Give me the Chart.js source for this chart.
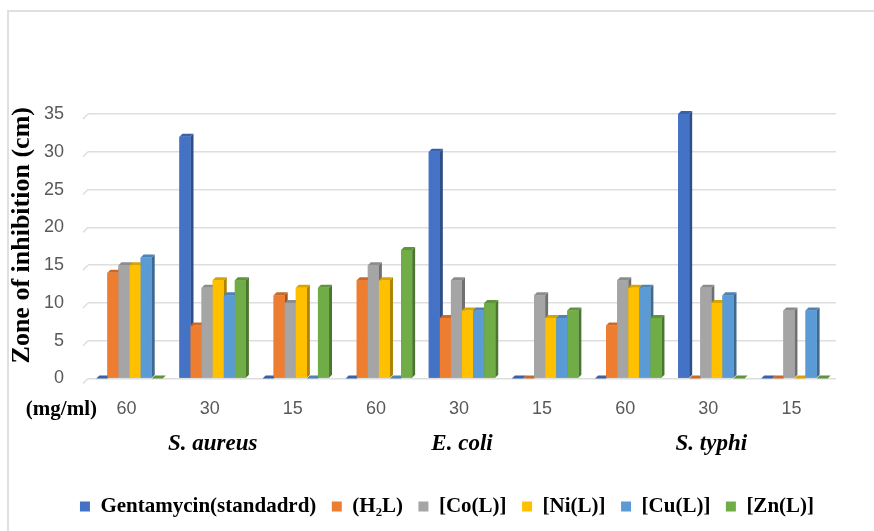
<!DOCTYPE html>
<html>
<head>
<meta charset="utf-8">
<script src="https://cdn.jsdelivr.net/npm/chart.js@4/dist/chart.umd.min.js"></script>
<style>
  html, body { margin: 0; padding: 0; background: #ffffff; }
  #wrap { position: relative; width: 874px; height: 531px; overflow: hidden; }
  #frame { position: absolute; left: 7px; top: 10px; width: 900px; height: 600px;
           border-left: 2px solid #e0e0e0; border-top: 2px solid #e0e0e0; pointer-events: none; }
  canvas { position: absolute; left: 0; top: 0; }
</style>
</head>
<body>
<div id="wrap">
  <div id="frame"></div>
  <canvas id="c" width="874" height="531"></canvas>
</div>
<script>
// Concentrations tested for each organism
const concentrations = ['60', '30', '15', '60', '30', '15', '60', '30', '15'];
const organisms = ['S. aureus', 'E. coli', 'S. typhi'];
const yTicks = [0, 5, 10, 15, 20, 25, 30, 35];

// Zone of inhibition (cm) for each compound
const gentamycin = [0, 32, 0, 0, 30, 0, 0, 35, 0];
const h2l        = [14, 7, 11, 13, 8, 0, 7, 0, 0];
const coL        = [15, 12, 10, 15, 13, 11, 13, 12, 9];
const niL        = [15, 13, 12, 13, 9, 8, 12, 10, 0];
const cuL        = [16, 11, 0, 0, 9, 8, 12, 11, 9];
const znL        = [0, 13, 12, 17, 10, 9, 8, 0, 0];

const seriesNames = ['Gentamycin(standadrd)', '(H\u2082L)', '[Co(L)]', '[Ni(L)]', '[Cu(L)]', '[Zn(L)]'];
const seriesColors = ['#4472C4', '#ED7D31', '#A5A5A5', '#FFC000', '#5B9BD5', '#70AD47'];
const seriesValues = [gentamycin, h2l, coL, niL, cuL, znL];
const yTitle = 'Zone of inhibition (cm)';

const GRID = '#dedede';
const DEPTH = 3;

function shade(hex, f) {
  const n = parseInt(hex.slice(1), 16);
  const r = Math.round(((n >> 16) & 255) * f);
  const g = Math.round(((n >> 8) & 255) * f);
  const b = Math.round((n & 255) * f);
  return 'rgb(' + r + ',' + g + ',' + b + ')';
}

// Gives the flat bars a shallow 3-D look: front face, darker side and top.
const bars3d = {
  id: 'bars3d',
  afterLayout(chart) {
    // legend sits a little right of centre
    chart.legend.left += 27;
    chart.legend.right += 27;
  },
  beforeDatasetsDraw(chart) {
    const ctx = chart.ctx;
    const y = chart.scales.y;
    const left = chart.chartArea.left;
    ctx.save();
    ctx.strokeStyle = GRID;
    ctx.lineWidth = 1.5;
    y.ticks.forEach(t => {
      const py = y.getPixelForValue(t.value);
      ctx.beginPath();
      ctx.moveTo(left - 5, py + 5);
      ctx.lineTo(left, py);
      ctx.stroke();
    });
    ctx.restore();
  },
  afterDatasetsDraw(chart) {
    const ctx = chart.ctx;
    const metas = chart.data.datasets.map((_, i) => chart.getDatasetMeta(i));
    const n = chart.data.labels.length;
    ctx.save();
    for (let k = 0; k < n; k++) {
      metas.forEach((meta, di) => {
        const el = meta.data[k];
        if (!el) return;
        const p = el.getProps(['x', 'y', 'base', 'width'], true);
        const l = p.x - p.width / 2, r = p.x + p.width / 2;
        const top = Math.min(p.y, p.base), base = Math.max(p.y, p.base);
        const col = seriesColors[di];
        // side face
        ctx.fillStyle = shade(col, 0.68);
        ctx.beginPath();
        ctx.moveTo(r, top); ctx.lineTo(r + DEPTH, top - DEPTH);
        ctx.lineTo(r + DEPTH, base - DEPTH); ctx.lineTo(r, base);
        ctx.closePath(); ctx.fill();
        // top face
        ctx.fillStyle = shade(col, 0.85);
        ctx.beginPath();
        ctx.moveTo(l, top); ctx.lineTo(l + DEPTH, top - DEPTH);
        ctx.lineTo(r + DEPTH, top - DEPTH); ctx.lineTo(r, top);
        ctx.closePath(); ctx.fill();
        // front face
        ctx.fillStyle = col;
        ctx.fillRect(l, top, r - l, base - top);
      });
    }
    ctx.restore();
  },
  afterDraw(chart) {
    const ctx = chart.ctx;
    const x = chart.scales.x;
    const area = chart.chartArea;
    const rowY = area.bottom + 31;
    ctx.save();
    ctx.textBaseline = 'middle';
    // concentration row, nudged toward the chart floor's front edge
    ctx.font = '18px "Liberation Sans"';
    ctx.fillStyle = '#595959';
    ctx.textAlign = 'center';
    concentrations.forEach((c, i) => {
      ctx.fillText(c, x.getPixelForValue(i) - 3, rowY);
    });
    // unit caption in front of the concentration row
    ctx.font = 'bold 21px "Liberation Serif"';
    ctx.fillStyle = '#000000';
    ctx.textAlign = 'right';
    ctx.fillText('(mg/ml)', x.left + 9, rowY);
    // value-axis title
    ctx.font = 'bold 26px "Liberation Serif"';
    ctx.textAlign = 'center';
    ctx.translate(22, (area.top + area.bottom) / 2 - 11);
    ctx.rotate(-Math.PI / 2);
    ctx.fillText(yTitle, 0, 0);
    ctx.restore();
  }
};

const datasets = seriesNames.map((name, i) => ({
  label: name,
  data: seriesValues[i],
  backgroundColor: seriesColors[i],
  borderWidth: 0,
  categoryPercentage: 0.8,
  barPercentage: 1.0
}));

new Chart(document.getElementById('c'), {
  type: 'bar',
  data: { labels: concentrations, datasets },
  plugins: [bars3d],
  options: {
    responsive: false,
    animation: false,
    devicePixelRatio: 1,
    layout: { padding: { top: 114, right: 38, left: 4, bottom: 4 } },
    plugins: {
      tooltip: { enabled: false },
      legend: {
        position: 'bottom',
        labels: {
          boxWidth: 10,
          boxHeight: 10,
          padding: 15.5,
          color: '#000000',
          font: { family: '"Liberation Serif"', size: 21, weight: 'bold' }
        }
      }
    },
    scales: {
      x: {
        grid: { display: false, drawTicks: false },
        border: { display: false },
        ticks: { display: false },
        afterFit(scale) { scale.height = 42; }
      },
      species: {
        type: 'category',
        labels: organisms,
        position: 'bottom',
        offset: true,
        weight: 10,
        grid: { display: false, drawTicks: false },
        border: { display: false },
        ticks: {
          color: '#000000',
          padding: 10,
          font: { family: '"Liberation Serif"', size: 23, weight: 'bold', style: 'italic' }
        },
        afterFit(scale) { scale.height = 60; }
      },
      y: {
        min: 0,
        max: 35,
        afterBuildTicks(scale) { scale.ticks = yTicks.map(v => ({ value: v })); },
        grid: { color: GRID, lineWidth: 1.5, drawTicks: false },
        border: { display: false },
        ticks: {
          color: '#595959',
          padding: 24,
          font: { family: '"Liberation Sans"', size: 18 }
        },
        afterFit(scale) { scale.width = 84; }
      }
    }
  }
});
</script>
</body>
</html>
